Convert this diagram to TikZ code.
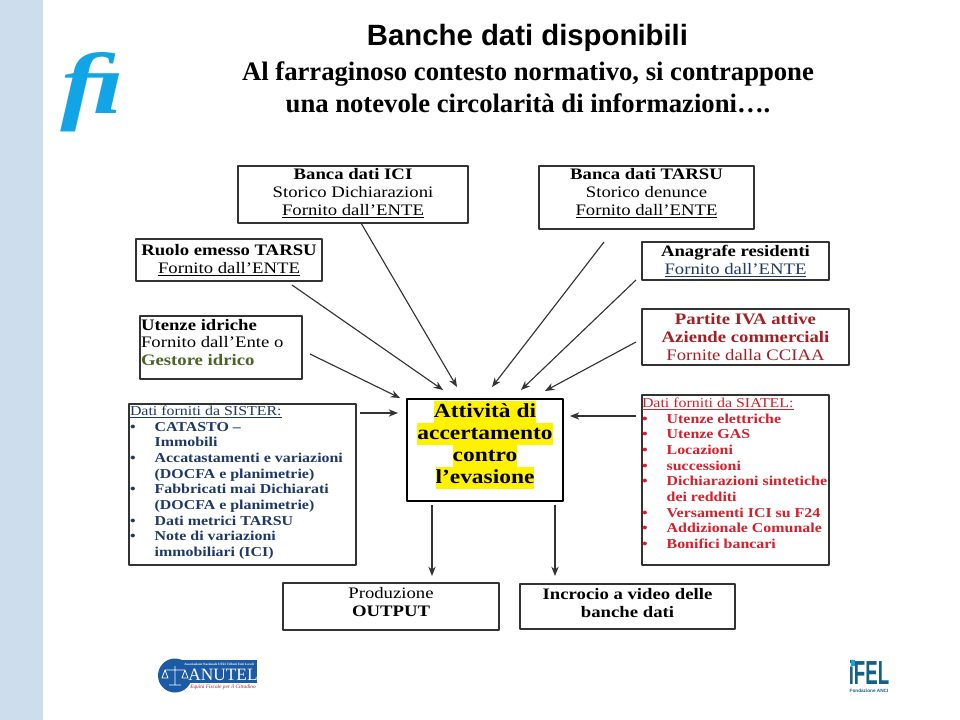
\documentclass[tikz,border=0pt]{standalone}
\usepackage{fontspec}
\setmainfont{Liberation Serif}
\newfontfamily\titolofont{Liberation Sans}
\newfontfamily\corpofont[FakeStretch=1.17]{Liberation Serif}
\usetikzlibrary{arrows.meta}
\definecolor{barra}{HTML}{CDDDEE}
\definecolor{celeste}{HTML}{12A5E6}
\definecolor{bordo}{HTML}{333333}
\definecolor{navy}{HTML}{1F3864}
\definecolor{rosso}{HTML}{D2202C}
\definecolor{scuro}{HTML}{A31F24}
\definecolor{oliva}{HTML}{4F6228}
\definecolor{logoblu}{HTML}{1B5AA5}
\definecolor{ifelblu}{HTML}{155E85}
\newcommand{\evid}[1]{\colorbox{yellow}{\rule[-4.4pt]{0pt}{16.5pt}#1}}
\newcommand{\voce}[1]{\makebox[18.5pt][l]{\textbullet}#1}
\newcommand{\segue}[1]{\hspace*{18.5pt}#1}
\setlength{\fboxsep}{0pt}
\begin{document}
\begin{tikzpicture}[
	x=0.75pt,
	y=-0.75pt,
	line join=round,
	corpo/.style={font=\corpofont\fontsize{12}{13.5}\selectfont},
	scatola/.style 2 args={draw=bordo, line width=1pt, inner sep=0pt, outer sep=0pt, align=center,
		minimum width=#1*0.75pt, minimum height=#2*0.75pt, corpo},
	centrato/.style={inner sep=0pt, outer sep=0pt, align=center, corpo},
	testo/.style={anchor=north west, inner sep=0pt, outer sep=0pt, align=left},
	freccia/.style={draw=bordo, line width=0.85pt, -{Stealth[length=7pt,width=5.5pt]}}
	]
	\useasboundingbox (0,0) rectangle (960,720);
	\fill[white] (0,0) rectangle (960,720);
	\fill[barra] (0,0) rectangle (43,720);

	\node[text=celeste, font=\fontsize{65}{65}\selectfont\bfseries\itshape, xscale=1.3] (logofi) at (93,92) {ﬁ};

	\node[font=\titolofont\bfseries\fontsize{22}{24}\selectfont] (titolo) at (527.5,38) {Banche dati disponibili};
	\node[align=center, font=\bfseries\fontsize{20}{24}\selectfont] (sottotitolo) at (528,87)
		{Al farraginoso contesto normativo, si contrappone\\una notevole circolarità di informazioni….};

	\node[scatola={230}{57}] (ici) at (353,194.5) {};
	\node[centrato] (iciTesto) at ([shift={(0,-1.5)}]ici.center)
		{\textbf{Banca dati ICI}\\Storico Dichiarazioni\\\underline{Fornito dall’ENTE}};
	\node[scatola={215}{63}] (tarsu) at (646.5,197.5) {};
	\node[centrato] (tarsuTesto) at ([shift={(0,-4)}]tarsu.center)
		{\textbf{Banca dati TARSU}\\Storico denunce\\\underline{Fornito dall’ENTE}};
	\node[scatola={186}{42}] (ruolo) at (229,260)
		{\textbf{Ruolo emesso  TARSU}\\\underline{Fornito dall’ENTE}};
	\node[scatola={187}{38}] (anagrafe) at (735.5,261)
		{\textbf{Anagrafe residenti}\\\textcolor{navy}{\underline{Fornito dall’ENTE}}};
	\node[scatola={162}{63}] (idriche) at (221,347.5) {};
	\node[testo, font=\corpofont\fontsize{12}{13.2}\selectfont] (idricheTesto) at ([shift={(1,3)}]idriche.north west)
		{\textbf{Utenze idriche}\\Fornito dall’Ente o\\\textcolor{oliva}{\textbf{Gestore idrico}}};
	\node[scatola={207}{56}] (partite) at (745.5,337)
		{\textcolor{scuro}{\textbf{Partite IVA attive}}\\\textcolor{scuro}{\textbf{Aziende commerciali}}\\\textcolor{scuro}{Fornite dalla CCIAA}};

	\node[scatola={227}{161}] (sister) at (242.5,484.5) {};
	\node[testo, text=navy, font=\corpofont\fontsize{10.2}{11.75}\selectfont] (sisterTesto) at ([shift={(1,2)}]sister.north west)
		{\underline{Dati forniti da SISTER:}\\
		\bfseries\voce{CATASTO –}\\
		\bfseries\segue{Immobili}\\
		\bfseries\voce{Accatastamenti e variazioni}\\
		\bfseries\segue{(DOCFA e planimetrie)}\\
		\bfseries\voce{Fabbricati mai Dichiarati}\\
		\bfseries\segue{(DOCFA e planimetrie)}\\
		\bfseries\voce{Dati metrici  TARSU}\\
		\bfseries\voce{Note di variazioni}\\
		\bfseries\segue{immobiliari  (ICI)}};
	\node[scatola={187}{170}] (siatel) at (735.5,480) {};
	\node[testo, text=rosso, font=\corpofont\fontsize{10.2}{11.75}\selectfont] (siatelTesto) at ([shift={(0,3)}]siatel.north west)
		{\underline{Dati forniti da SIATEL:}\\
		\bfseries\voce{Utenze elettriche}\\
		\bfseries\voce{Utenze GAS}\\
		\bfseries\voce{Locazioni}\\
		\bfseries\voce{successioni}\\
		\bfseries\voce{Dichiarazioni  sintetiche}\\
		\bfseries\segue{dei redditi}\\
		\bfseries\voce{Versamenti ICI su F24}\\
		\bfseries\voce{Addizionale Comunale}\\
		\bfseries\voce{Bonifici bancari}};

	\node[scatola={156}{102}, line width=2pt, draw=black] (attivita) at (485,450) {};
	\node[inner sep=0pt, align=center, font=\corpofont\bfseries\fontsize{15}{16.5}\selectfont] (attivitaTesto) at ([shift={(0,-5)}]attivita.center)
		{\evid{Attività di}\\\evid{accertamento}\\\evid{contro}\\\evid{l’evasione}};

	\node[scatola={216}{47}] (produzione) at (391,606.5) {};
	\node[centrato] (produzioneTesto) at ([shift={(0,-4.5)}]produzione.center)
		{Produzione\\\textbf{OUTPUT}};
	\node[scatola={215}{45}] (incrocio) at (627.5,606.5) {};
	\node[centrato] (incrocioTesto) at ([shift={(0,-3.5)}]incrocio.center)
		{\textbf{Incrocio a video delle}\\\textbf{banche dati}};

	\draw[freccia] ([shift={(123,0)}]ici.south west) -- ([shift={(50,-12)}]attivita.north west);
	\draw[freccia] ([shift={(156,4)}]ruolo.south west) -- ([shift={(36,-9)}]attivita.north west);
	\draw[freccia] ([shift={(8,6.5)}]idriche.east) -- ([shift={(-7,-1)}]attivita.north west);
	\draw[freccia] ([shift={(4,9)}]sister.north east) -- ([shift={(-9,14)}]attivita.north west);
	\draw[freccia] ([shift={(65,13)}]tarsu.south west) -- ([shift={(85,-12)}]attivita.north west);
	\draw[freccia] ([shift={(-6,0)}]anagrafe.south west) -- ([shift={(114,-9)}]attivita.north west);
	\draw[freccia] ([shift={(-6,5)}]partite.west) -- ([shift={(138,-8)}]attivita.north west);
	\draw[freccia] ([shift={(-6,21)}]siatel.north west) -- ([shift={(7,17)}]attivita.north east);
	\draw[freccia] ([shift={(25,4)}]attivita.south west) -- ([shift={(149,-7)}]produzione.north west);
	\draw[freccia] ([shift={(-8,4)}]attivita.south east) -- ([shift={(35,-8)}]incrocio.north west);

	\begin{scope}[shift={(157,660)}]
		\fill[logoblu] (18,15.5) circle[radius=17];
		\fill[logoblu] (18,0) rectangle (100,22.5);
		\fill[white] (33,22.5) rectangle (100,31);
		\draw[white, line width=0.6pt] (18,6) -- (18,25) (12,25) -- (24,25) (8,10) -- (28,10)
			(8,10) -- (5,18) -- (11,18) -- cycle (28,10) -- (25,18) -- (31,18) -- cycle;
		\node[text=white, font=\bfseries\fontsize{2.5}{3}\selectfont] (anutelSopra) at (62,4) {Associazione Nazionale Uffici Tributi Enti Locali};
		\node[text=white, font=\fontsize{13}{13}\selectfont, inner sep=0pt] (anutel) at (66,15) {ANUTEL};
		\node[text=scuro, font=\itshape\fontsize{4}{4}\selectfont, inner sep=0pt] (anutelSotto) at (66,27) {Equità Fiscale per il Cittadino};
	\end{scope}

	\node[font=\titolofont\bfseries\fontsize{25}{25}\selectfont, text=ifelblu, inner sep=0pt, xscale=0.56] (ifel) at (869,672) {iFEL};
	\fill[celeste] (850.5,660) rectangle (855,665.5);
	\node[font=\titolofont\bfseries\fontsize{3.5}{4}\selectfont, text=ifelblu, inner sep=0pt] (fondazione) at (869,690.5) {Fondazione ANCI};
\end{tikzpicture}
\end{document}
